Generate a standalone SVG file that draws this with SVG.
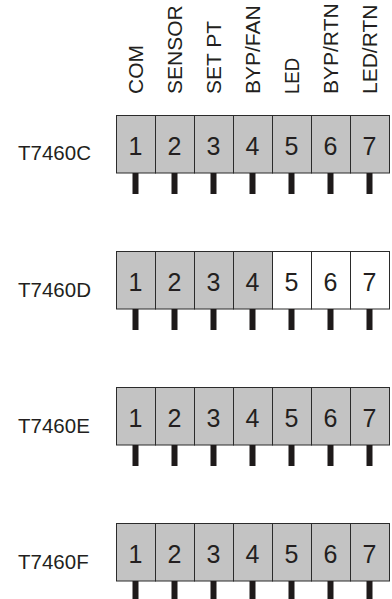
<svg xmlns="http://www.w3.org/2000/svg" width="392" height="599" viewBox="0 0 392 599">
<style>
text{font-family:"Liberation Sans",Arial,sans-serif;fill:#231f20}
.h{font-size:21px}
.lbl{font-size:20.5px}
.num{font-size:25px;text-anchor:middle}
.cell{fill:#c3c3c3;stroke:#2b2b2b;stroke-width:1}
.w{fill:#ffffff}
.pin{fill:#1e1a1a}
</style>
<defs>
<g id="pins">
<rect class="pin" x="132.5" y="0" width="6" height="21"/>
<rect class="pin" x="171.5" y="0" width="6" height="21"/>
<rect class="pin" x="210.5" y="0" width="6" height="21"/>
<rect class="pin" x="249.5" y="0" width="6" height="21"/>
<rect class="pin" x="288.5" y="0" width="6" height="21"/>
<rect class="pin" x="327.5" y="0" width="6" height="21"/>
<rect class="pin" x="366.5" y="0" width="6" height="21"/>
</g>
<g id="nums">
<text class="num" x="135.5" y="0">1</text>
<text class="num" x="174.5" y="0">2</text>
<text class="num" x="213.5" y="0">3</text>
<text class="num" x="252.5" y="0">4</text>
<text class="num" x="291.5" y="0">5</text>
<text class="num" x="330.5" y="0">6</text>
<text class="num" x="369.5" y="0">7</text>
</g>
</defs>
<g id="headers">
<text class="h" transform="translate(143,94) rotate(-90)">COM</text>
<text class="h" transform="translate(182,94) rotate(-90)">SENSOR</text>
<text class="h" transform="translate(221,94) rotate(-90)">SET PT</text>
<text class="h" transform="translate(260,94) rotate(-90)">BYP/FAN</text>
<text class="h" transform="translate(299,94) rotate(-90)" textLength="36" lengthAdjust="spacingAndGlyphs">LED</text>
<text class="h" transform="translate(338,94) rotate(-90)">BYP/RTN</text>
<text class="h" transform="translate(377,94) rotate(-90)">LED/RTN</text>
</g>
<g id="T7460C">
<text class="lbl" x="18" y="160">T7460C</text>
<g transform="translate(0,115)">
<rect class="cell" x="116.5" y="0.5" width="39" height="57.5"/>
<rect class="cell" x="155.5" y="0.5" width="39" height="57.5"/>
<rect class="cell" x="194.5" y="0.5" width="39" height="57.5"/>
<rect class="cell" x="233.5" y="0.5" width="39" height="57.5"/>
<rect class="cell" x="272.5" y="0.5" width="39" height="57.5"/>
<rect class="cell" x="311.5" y="0.5" width="39" height="57.5"/>
<rect class="cell" x="350.5" y="0.5" width="39" height="57.5"/>
<use href="#pins" y="58"/>
<use href="#nums" y="40"/>
</g>
</g>
<g id="T7460D">
<text class="lbl" x="18" y="297">T7460D</text>
<g transform="translate(0,251)">
<rect class="cell" x="116.5" y="0.5" width="39" height="57.5"/>
<rect class="cell" x="155.5" y="0.5" width="39" height="57.5"/>
<rect class="cell" x="194.5" y="0.5" width="39" height="57.5"/>
<rect class="cell" x="233.5" y="0.5" width="39" height="57.5"/>
<rect class="cell w" x="272.5" y="0.5" width="39" height="57.5"/>
<rect class="cell w" x="311.5" y="0.5" width="39" height="57.5"/>
<rect class="cell w" x="350.5" y="0.5" width="39" height="57.5"/>
<use href="#pins" y="58"/>
<use href="#nums" y="40"/>
</g>
</g>
<g id="T7460E">
<text class="lbl" x="18" y="433">T7460E</text>
<g transform="translate(0,387)">
<rect class="cell" x="116.5" y="0.5" width="39" height="57.5"/>
<rect class="cell" x="155.5" y="0.5" width="39" height="57.5"/>
<rect class="cell" x="194.5" y="0.5" width="39" height="57.5"/>
<rect class="cell" x="233.5" y="0.5" width="39" height="57.5"/>
<rect class="cell" x="272.5" y="0.5" width="39" height="57.5"/>
<rect class="cell" x="311.5" y="0.5" width="39" height="57.5"/>
<rect class="cell" x="350.5" y="0.5" width="39" height="57.5"/>
<use href="#pins" y="58"/>
<use href="#nums" y="40"/>
</g>
</g>
<g id="T7460F">
<text class="lbl" x="18" y="569">T7460F</text>
<g transform="translate(0,523)">
<rect class="cell" x="116.5" y="0.5" width="39" height="57.5"/>
<rect class="cell" x="155.5" y="0.5" width="39" height="57.5"/>
<rect class="cell" x="194.5" y="0.5" width="39" height="57.5"/>
<rect class="cell" x="233.5" y="0.5" width="39" height="57.5"/>
<rect class="cell" x="272.5" y="0.5" width="39" height="57.5"/>
<rect class="cell" x="311.5" y="0.5" width="39" height="57.5"/>
<rect class="cell" x="350.5" y="0.5" width="39" height="57.5"/>
<use href="#pins" y="58"/>
<use href="#nums" y="40"/>
</g>
</g>
<g id="connectors"/>
</svg>
